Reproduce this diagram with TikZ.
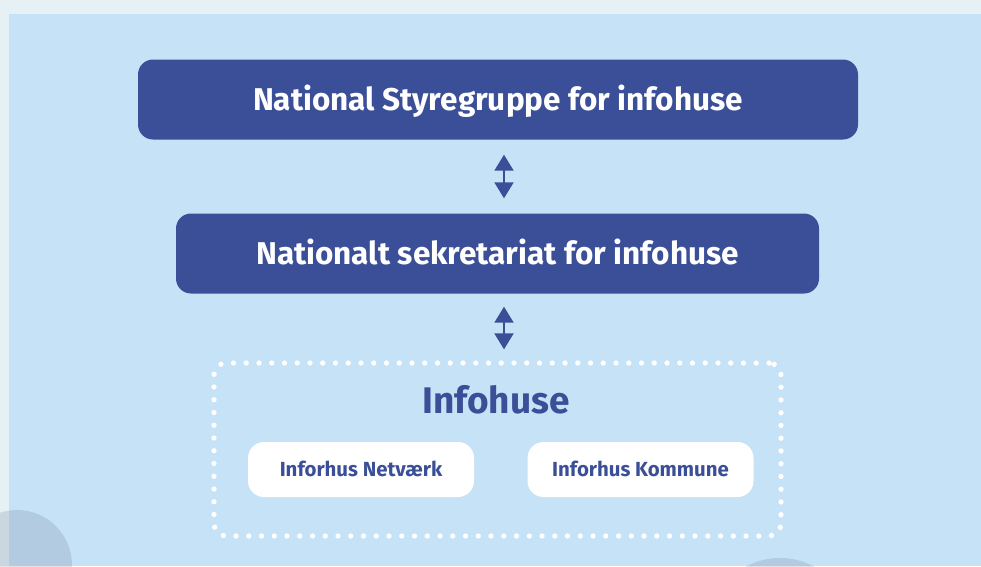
\documentclass[tikz,border=0pt]{standalone}
\usepackage{fontspec}
\setmainfont{Fira Sans}
\usetikzlibrary{arrows.meta}
\definecolor{outerbg}{HTML}{E5F1F4}
\definecolor{panel}{HTML}{C6E2F6}
\definecolor{navy}{HTML}{3B4F98}
\definecolor{blob}{RGB}{100,115,140}
\tikzset{
  titlebox/.style={fill=navy, text=white, rounded corners=15pt, inner sep=0pt,
    minimum height=80pt,
    font=\fontsize{31.5}{38}\selectfont\bfseries, text height=21.7pt, text depth=0pt},
  whitebox/.style={fill=white, text=navy, rounded corners=16pt, inner sep=0pt,
    minimum width=226pt, minimum height=55pt,
    font=\fontsize{20.4}{24}\selectfont\bfseries, text height=14pt, text depth=0pt},
  dotbox/.style={draw=white, line width=5.3pt, line cap=round,
    dash pattern=on 0pt off 12.75pt, rounded corners=12pt, inner sep=0pt,
    minimum width=567pt, minimum height=173pt},
  bigtitle/.style={text=navy, inner sep=0pt,
    font=\fontsize{37}{44}\selectfont\bfseries, text height=25.5pt, text depth=0pt},
  dbl/.style={navy, line width=2pt,
    {Triangle[width=19pt,length=16pt]}-{Triangle[width=19pt,length=16pt]}},
}
\begin{document}
\begin{tikzpicture}[x=1pt, y=-1pt]
\useasboundingbox (0,0) rectangle (981,566);
\fill[outerbg] (0,0) rectangle (981,566);
\fill[panel] (9,14) rectangle (981,566);
\begin{scope}
\clip (0,0) rectangle (981,566);
\fill[blob, opacity=0.2] (17,565) circle[radius=55];
\fill[blob, opacity=0.2] (780,630) circle[radius=72];
\end{scope}

\node[titlebox, minimum width=720pt] (styre) at (498,99.5) {National Styregruppe for infohuse};
\node[titlebox, minimum width=643pt] (sekr) at (497.5,253.5) {Nationalt sekretariat for infohuse};

\node[dotbox] (infobox) at (497.5,449.5) {};
\node[bigtitle] (infohuse) at (496,401) {Infohuse};
\node[whitebox] (netv) at (361,469.5) {Inforhus Netværk};
\node[whitebox] (komm) at (640.5,469.5) {Inforhus Kommune};

\draw[dbl] ([xshift=6pt,yshift=-15pt]styre.south) -- ([xshift=6.5pt,yshift=15pt]sekr.north);
\draw[dbl] ([xshift=6.5pt,yshift=-13pt]sekr.south) -- ([xshift=6.5pt,yshift=11pt]infobox.north);
\end{tikzpicture}
\end{document}
